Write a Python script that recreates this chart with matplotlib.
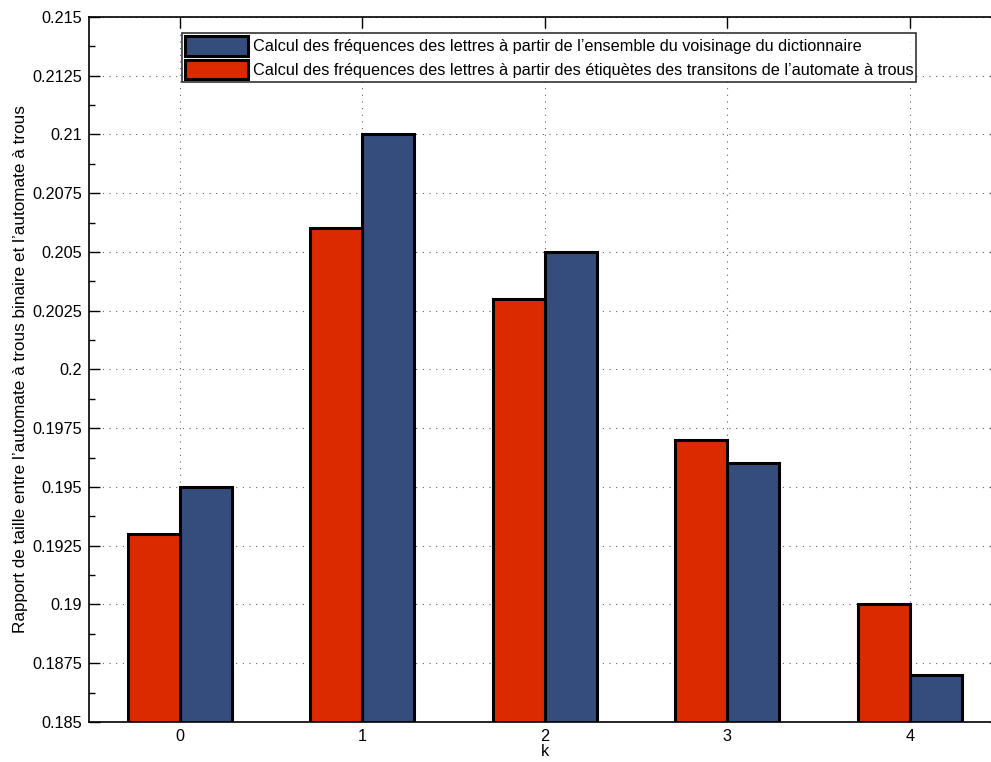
import numpy as np
import matplotlib
matplotlib.use("Agg")
import matplotlib.pyplot as plt
from matplotlib.ticker import MultipleLocator

plt.rcParams['font.family'] = ['Liberation Sans', 'DejaVu Sans']

k = [0, 1, 2, 3, 4]
freq_etiquettes = [0.193, 0.206, 0.203, 0.197, 0.190]   # red
freq_voisinage = [0.195, 0.210, 0.205, 0.196, 0.187]    # blue
y_ticks = [0.185, 0.1875, 0.19, 0.1925, 0.195, 0.1975, 0.2, 0.2025,
           0.205, 0.2075, 0.21, 0.2125, 0.215]
y_labels = ['0.185', '0.1875', '0.19', '0.1925', '0.195', '0.1975', '0.2',
            '0.2025', '0.205', '0.2075', '0.21', '0.2125', '0.215']

red = '#DC2A00'
blue = '#354D7D'
fs = 11.7

fig = plt.figure(figsize=(9.91, 7.62), dpi=100)
ax = fig.add_axes([0.0896, 0.0525, 0.9205, 0.9252])

x = np.array(k)
w = 0.285
b1 = ax.bar(x + w / 2, freq_voisinage, width=w, color=blue, edgecolor='black',
            linewidth=2.2, label="Calcul des fréquences des lettres à partir de l’ensemble du voisinage du dictionnaire",
            zorder=3)
b2 = ax.bar(x - w / 2, freq_etiquettes, width=w, color=red, edgecolor='black',
            linewidth=2.2, label="Calcul des fréquences des lettres à partir des étiquètes des transitons de l’automate à trous",
            zorder=3)

ax.set_xlim(-0.5, 4.5)
ax.set_ylim(0.185, 0.215)
ax.set_xticks(k)
ax.set_xticklabels([str(v) for v in k])
ax.set_yticks(y_ticks)
ax.set_yticklabels(y_labels)
ax.yaxis.set_minor_locator(MultipleLocator(0.00125))

ax.tick_params(which='both', direction='in', top=True, right=True, labelsize=fs)
ax.tick_params(which='major', length=8, width=1, pad=5)
ax.tick_params(which='minor', length=4, width=1)
ax.tick_params(axis='x', which='minor', top=False, bottom=False)

ax.grid(True, which='major', linestyle=(0, (1, 5)), color='#666666', linewidth=0.8, zorder=0)
for s in ax.spines.values():
    s.set_linewidth(1.2)
    s.set_zorder(4)

ax.set_xlabel('k', fontsize=fs, labelpad=0)
ax.set_ylabel("Rapport de taille entre l’automate à trous binaire et l’automate à trous",
              fontsize=12.3, labelpad=3)

leg = ax.legend(handles=[b1, b2], loc='upper left', bbox_to_anchor=(0.102, 0.977),
                fontsize=fs, frameon=True, fancybox=False, edgecolor='black',
                handlelength=3.9, handleheight=1.45, handletextpad=0.25,
                borderpad=0.2, labelspacing=0.25, borderaxespad=0)
leg.get_frame().set_linewidth(1.2)

fig.savefig('out.png', dpi=100)
